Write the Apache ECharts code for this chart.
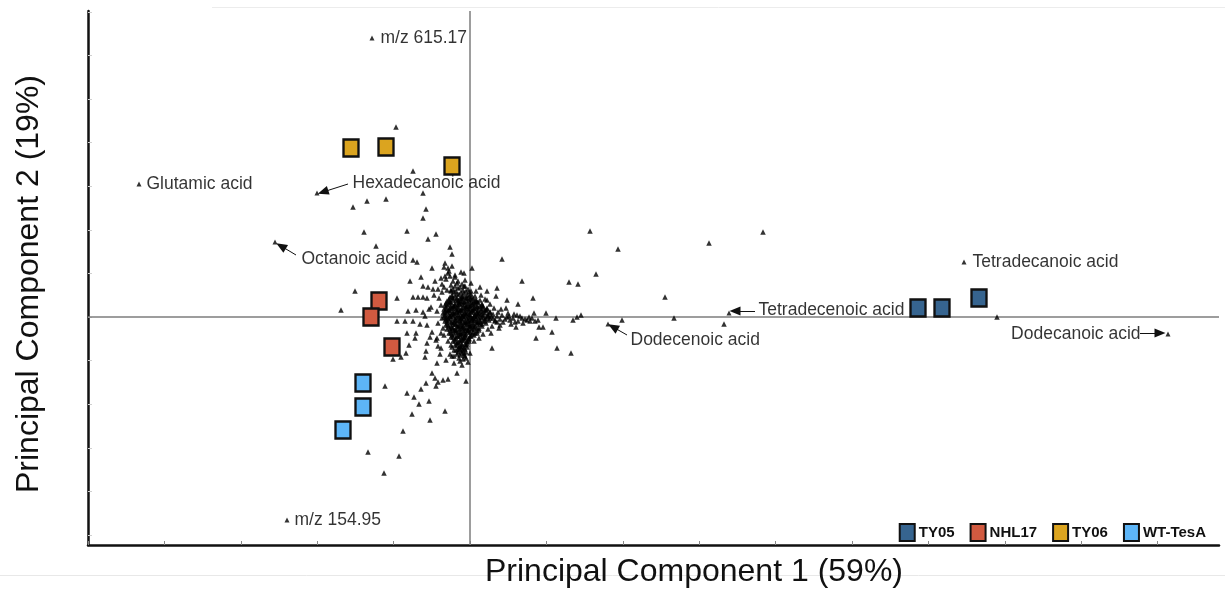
<!DOCTYPE html>
<html>
<head>
<meta charset="utf-8">
<title>PCA score plot</title>
<script src="https://cdn.jsdelivr.net/npm/echarts@6/dist/echarts.min.js"></script>
<style>
  html, body { margin: 0; padding: 0; background: #fff; }
  #chart { width: 1225px; height: 596px; }
</style>
</head>
<body>
<div id="chart"></div>
<script>
// PCA scores: strains (squares) and metabolite features (triangles)
const groupNames = ['TY05', 'NHL17', 'TY06', 'WT-TesA'];
const ty05 = [[44.8, 0.9], [47.2, 0.9], [50.9, 1.9]];
const nhl17 = [[-9.1, 1.6], [-9.9, 0.0], [-7.8, -3.0]];
const ty06 = [[-11.9, 16.9], [-8.4, 17.0], [-1.8, 15.1]];
const wtTesA = [[-10.7, -6.6], [-10.7, -9.0], [-12.7, -11.3]];

// Named metabolite features
const featureNames = ['m/z 615.17', 'Glutamic acid', 'Hexadecanoic acid', 'Octanoic acid', 'm/z 154.95',
  'Tetradecanoic acid', 'Tetradecenoic acid', 'Dodecenoic acid', 'Dodecanoic acid'];
const featureScores = [[-9.8, 27.9], [-33.1, 13.3], [-15.3, 12.4], [-19.5, 7.5], [-18.3, -20.3],
  [49.4, 5.5], [25.9, 0.4], [13.8, -0.7], [69.8, -1.7]];

// Remaining features: scattered loadings
const scatteredFeatures = [
  [-7.4, 19.0], [-5.7, 14.6], [-11.7, 11.0], [-10.3, 11.6], [-8.4, 11.8], [-4.7, 12.4], [-4.4, 10.8],
  [-4.7, 9.9], [-10.6, 8.5], [-6.3, 8.6], [-4.2, 7.8], [-3.4, 8.3], [-9.4, 7.1], [-2.0, 7.0], [-1.8, 6.3],
  [-5.7, 5.7], [-5.3, 5.5], [-3.8, 4.9], [-2.5, 5.4], [-2.2, 4.9], [0.2, 4.9], [3.2, 5.8], [-0.6, 4.4],
  [-6.0, 3.6], [-4.9, 4.0], [-4.7, 3.1], [-3.7, 2.8], [-11.5, 2.6], [-7.3, 1.9], [-12.9, 0.7],
  [-5.7, 2.0], [-5.2, 2.0], [-4.7, 2.0], [-4.3, 1.9], [-6.2, 0.6], [-5.4, 0.7], [-4.7, 0.5], [-4.1, 0.8],
  [-7.3, -0.4], [-6.5, -0.4], [-5.7, -0.4], [-5.0, -0.7], [-6.3, -1.6], [-5.4, -1.6], [-5.5, -2.1],
  [-4.0, -2.0], [-6.1, -2.8], [-6.4, -3.6], [-6.9, -4.0], [-7.7, -4.2], [-4.3, -2.6], [-4.4, -3.4],
  [-4.5, -4.0], [-3.3, -2.1], [-3.2, -2.9], [-3.0, -3.7], [-2.4, -4.3], [-3.3, -4.6], [-1.8, -3.9],
  [-1.6, -3.3], [-0.8, -4.8], [-0.4, -2.8], [-3.8, -5.6], [-1.3, -5.6], [-0.4, -6.4], [-3.5, -6.1],
  [-2.7, -6.3], [-2.2, -6.2], [-3.2, -6.5], [-3.4, -6.9], [-4.4, -6.6], [-4.9, -7.2], [-8.5, -6.9],
  [-6.3, -7.6], [-5.6, -8.0], [-4.1, -8.4], [-5.1, -8.7], [-5.8, -9.7], [-2.5, -9.4], [-4.0, -10.3],
  [-6.7, -11.4], [-10.2, -13.5], [-7.1, -13.9], [-8.6, -15.6], [-2.9, -1.6], [-1.9, -2.8],
  [5.2, 3.6], [2.7, 2.9], [2.6, 2.1], [3.7, 1.7], [4.8, 1.3], [6.3, 1.9], [6.4, 0.4], [7.6, 0.4],
  [8.6, -0.1], [10.3, -0.3], [10.7, 0.0], [11.1, 0.2], [9.9, 3.5], [10.8, 3.3], [12.6, 4.3], [12.0, 8.6],
  [14.8, 6.8], [23.9, 7.4], [29.3, 8.5], [19.5, 2.0], [15.2, -0.3], [20.4, -0.1], [25.4, -0.7],
  [6.9, -1.0], [7.3, -1.0], [8.2, -1.5], [6.5, -0.4], [6.6, -2.1], [8.7, -3.1], [10.1, -3.6], [2.2, -3.1],
  [5.2, -0.1], [5.7, -0.3], [4.3, -0.1], [3.7, 0.0], [4.7, 0.2], [3.8, 0.4], [2.9, -1.1], [1.7, 1.7],
  [3.1, 0.8], [52.7, 0.0],
  [-2.6, 5.0], [-1.8, 5.1], [-2.2, 4.4], [-1.5, 4.0], [-2.9, 3.9], [-0.5, 3.7]
];

// Halo around the central cluster
const clusterHalo = [
  [-2.8, 2.5], [-3.1, 1.9], [-2.6, 3.0], [-1.9, 3.2], [-1.2, 3.6], [-0.6, 3.1], [0.1, 3.4], [-2.4, 3.8],
  [-1.5, 4.2], [-0.9, 4.5], [-2.9, 1.2], [-3.3, 0.6], [-2.8, -0.1], [-3.2, -0.6], [-2.7, -1.1],
  [-2.6, -1.8], [-2.2, -2.4], [-1.8, -3.0], [-1.4, -3.3], [-0.9, -3.4], [-0.5, -3.9], [-1.1, -4.1],
  [-0.3, -3.0], [0.4, -2.4], [0.9, -2.1], [1.3, -1.7], [1.8, -1.2], [0.6, 2.6], [1.1, 2.2], [1.5, 1.8],
  [2.0, 1.3], [2.4, 0.9], [2.8, 0.5], [3.2, 0.2], [3.5, -0.2], [2.7, -0.5], [3.0, -0.8], [2.2, -0.9],
  [4.0, -0.3], [4.4, 0.3], [4.8, -0.4], [5.5, -0.2], [6.0, -0.4], [5.9, 0.0], [4.6, -1.0], [3.6, 0.9],
  [1.0, 3.0], [-3.6, 2.2], [-3.9, 1.0], [-4.2, 3.0], [-3.8, -1.5], [-3.4, -2.3], [-2.9, -3.1],
  [-2.0, -3.7], [-1.6, -4.6], [-0.7, -4.2], [0.0, -3.6], [-0.2, -4.5], [1.7, 2.6], [2.1, -1.6],
  [-4.5, 0.1], [-4.3, -0.8], [-3.5, 3.6], [-2.1, 4.6],
  [-2.8, 3.3], [-2.3, 2.7], [-1.9, 2.7], [-3.2, 2.8], [-2.5, 4.1], [-1.7, 3.6], [-2.0, 4.1],
  [-1.3, -3.7], [-0.9, -3.0], [-0.6, -3.6], [-1.0, -4.4], [-0.4, -4.1], [-1.6, -3.9],
  [2.5, -0.4], [3.3, -0.5], [3.9, 0.1], [4.5, -0.5], [5.0, 0.1], [5.3, -0.6], [6.2, -0.1], [6.8, -0.3], [4.1, -0.7]
];

// Dense core of low-loading features near the origin
const clusterCore = [
  [-1.6, 2.5], [-1.1, 2.3], [-0.6, 2.4], [-0.1, 2.5],
  [-2.0, 2.0], [-1.5, 2.1], [-1.0, 1.9], [-0.6, 2.0], [-0.1, 2.1], [0.3, 1.9],
  [-2.3, 1.6], [-1.9, 1.5], [-1.4, 1.7], [-1.0, 1.6], [-0.5, 1.5], [-0.1, 1.7], [0.4, 1.6], [0.8, 1.5],
  [-2.5, 1.2], [-2.1, 1.3], [-1.7, 1.1], [-1.2, 1.2], [-0.8, 1.3], [-0.4, 1.1], [0.1, 1.2], [0.5, 1.3], [1.0, 1.1],
  [-2.6, 0.8], [-2.2, 0.7], [-1.8, 0.9], [-1.4, 0.8], [-1.0, 0.7], [-0.6, 0.9], [-0.2, 0.8], [0.2, 0.7],
  [0.6, 0.9], [1.1, 0.8], [1.5, 0.7],
  [-2.7, 0.4], [-2.3, 0.5], [-1.9, 0.3], [-1.5, 0.4], [-1.1, 0.5], [-0.7, 0.3], [-0.3, 0.4], [0.1, 0.5],
  [0.5, 0.3], [0.9, 0.4], [1.3, 0.5], [1.8, 0.3],
  [-2.6, 0.0], [-2.2, -0.1], [-1.7, 0.1], [-1.3, 0.0], [-0.9, -0.1], [-0.5, 0.1], [-0.1, 0.0], [0.3, -0.1],
  [0.7, 0.1], [1.1, 0.0], [1.6, -0.1], [2.1, 0.1],
  [-2.5, -0.4], [-2.1, -0.3], [-1.6, -0.5], [-1.2, -0.4], [-0.8, -0.3], [-0.4, -0.5], [0.0, -0.4],
  [0.4, -0.3], [0.8, -0.5], [1.3, -0.4], [1.9, -0.3],
  [-2.4, -0.8], [-1.9, -0.9], [-1.5, -0.7], [-1.1, -0.8], [-0.7, -0.9], [-0.3, -0.7], [0.1, -0.8],
  [0.5, -0.9], [1.0, -0.7],
  [-2.3, -1.2], [-1.8, -1.1], [-1.4, -1.3], [-1.0, -1.2], [-0.6, -1.1], [-0.2, -1.3], [0.2, -1.2], [0.7, -1.1],
  [-2.1, -1.6], [-1.6, -1.7], [-1.2, -1.5], [-0.8, -1.6], [-0.4, -1.7], [0.0, -1.5], [0.5, -1.6],
  [-1.9, -2.0], [-1.4, -2.1], [-1.0, -1.9], [-0.6, -2.0], [-0.1, -2.1],
  [-1.7, -2.4], [-1.2, -2.5], [-0.8, -2.3], [-0.3, -2.4],
  [-1.5, -2.8], [-1.0, -2.9], [-0.5, -2.7],
  [-1.2, -3.2], [-0.7, -3.3],
  [-1.8, 2.2], [-1.3, 2.3], [-0.8, 2.1], [-0.3, 2.2], [0.1, 2.3],
  [-2.1, 1.8], [-1.7, 1.9], [-1.2, 1.7], [-0.8, 1.8], [-0.3, 1.9], [0.1, 1.8], [0.6, 1.7],
  [-2.4, 1.4], [-2.0, 1.5], [-1.5, 1.3], [-1.1, 1.4], [-0.6, 1.5], [-0.2, 1.3], [0.3, 1.4], [0.7, 1.5], [1.2, 1.3],
  [-2.4, 1.0], [-2.0, 0.9], [-1.6, 1.1], [-1.2, 1.0], [-0.8, 0.9], [-0.4, 1.0], [0.0, 1.1], [0.4, 0.9],
  [0.8, 1.0], [1.3, 1.1], [1.7, 0.9],
  [-2.5, 0.6], [-2.1, 0.7], [-1.7, 0.5], [-1.3, 0.6], [-0.9, 0.7], [-0.5, 0.5], [-0.1, 0.6], [0.3, 0.7],
  [0.7, 0.5], [1.1, 0.6], [1.6, 0.7], [2.0, 0.5],
  [-2.5, 0.2], [-2.0, 0.1], [-1.6, 0.3], [-1.2, 0.2], [-0.8, 0.1], [-0.4, 0.3], [0.0, 0.2], [0.4, 0.1],
  [0.8, 0.3], [1.3, 0.2], [1.8, 0.1], [2.3, 0.3], [2.7, 0.1],
  [-2.4, -0.2], [-1.9, -0.1], [-1.5, -0.3], [-1.0, -0.2], [-0.6, -0.1], [-0.2, -0.3], [0.2, -0.2], [0.6, -0.1],
  [1.0, -0.3], [1.5, -0.2], [2.0, -0.1], [2.5, -0.3], [3.0, -0.2],
  [-2.3, -0.6], [-1.8, -0.5], [-1.4, -0.7], [-0.9, -0.6], [-0.5, -0.5], [-0.1, -0.7], [0.3, -0.6], [0.7, -0.5],
  [1.2, -0.7], [1.6, -0.6],
  [-2.1, -1.0], [-1.7, -1.1], [-1.2, -0.9], [-0.8, -1.0], [-0.4, -1.1], [0.0, -0.9], [0.4, -1.0], [0.9, -1.1],
  [-1.9, -1.4], [-1.5, -1.3], [-1.0, -1.5], [-0.6, -1.4], [-0.2, -1.3], [0.3, -1.5], [0.7, -1.4],
  [-1.8, -1.8], [-1.3, -1.9], [-0.9, -1.7], [-0.5, -1.8], [0.0, -1.9], [0.4, -1.8],
  [-1.5, -2.2], [-1.0, -2.3], [-0.6, -2.1], [-0.1, -2.2],
  [-1.3, -2.6], [-0.8, -2.7], [-0.3, -2.5],
  [-1.1, -3.0], [-0.6, -3.1],
  [-1.3, 3.4], [-0.8, 3.3],
  [-1.5, 3.1], [-1.0, 3.0], [-0.5, 3.1],
  [-1.7, 2.8], [-1.2, 2.9], [-0.7, 2.7], [-0.2, 2.8],
  [-1.9, 2.6], [-1.4, 2.6], [-0.9, 2.5], [-0.4, 2.6], [0.1, 2.6],
  [-1.8, 2.0], [-1.3, 1.9], [-0.8, 2.0], [-0.4, 1.9], [0.1, 2.0], [0.5, 2.1],
  [-2.1, 1.6], [-1.7, 1.7], [-1.2, 1.5], [-0.8, 1.6], [-0.3, 1.6], [0.1, 1.5], [0.6, 1.6], [1.0, 1.7],
  [-2.3, 1.2], [-1.9, 1.1], [-1.5, 1.2], [-1.0, 1.3], [-0.6, 1.2], [-0.2, 1.1], [0.3, 1.2], [0.7, 1.1], [1.2, 1.2],
  [-2.4, 0.8], [-2.0, 0.7], [-1.6, 0.9], [-1.2, 0.8], [-0.8, 0.7], [-0.4, 0.8], [0.0, 0.9], [0.4, 0.8],
  [0.8, 0.7], [1.3, 0.9], [1.7, 0.8],
  [-2.5, 0.4], [-2.1, 0.3], [-1.7, 0.4], [-1.3, 0.5], [-0.9, 0.3], [-0.5, 0.4], [-0.1, 0.3], [0.3, 0.5],
  [0.7, 0.4], [1.1, 0.3], [1.5, 0.4], [2.0, 0.5],
  [-2.4, 0.0], [-2.0, 0.1], [-1.5, -0.1], [-1.1, 0.0], [-0.7, 0.1], [-0.3, -0.1], [0.1, 0.0], [0.5, 0.1],
  [0.9, -0.1], [1.3, 0.0], [1.8, 0.1], [2.3, -0.1],
  [-2.3, -0.4], [-1.9, -0.5], [-1.4, -0.3], [-1.0, -0.4], [-0.6, -0.5], [-0.2, -0.4], [0.2, -0.3], [0.6, -0.4],
  [1.0, -0.5], [1.5, -0.4],
  [-2.2, -0.8], [-1.7, -0.7], [-1.3, -0.9], [-0.9, -0.8], [-0.5, -0.7], [-0.1, -0.9], [0.3, -0.8], [0.7, -0.7], [1.2, -0.9],
  [-2.0, -1.2], [-1.6, -1.3], [-1.2, -1.1], [-0.8, -1.2], [-0.4, -1.3], [0.0, -1.1], [0.4, -1.2], [0.9, -1.3],
  [-1.9, -1.6], [-1.4, -1.5], [-1.0, -1.7], [-0.6, -1.6], [-0.2, -1.5], [0.2, -1.7], [0.7, -1.6],
  [-1.7, -2.0], [-1.2, -1.9], [-0.8, -2.1], [-0.4, -2.0], [0.1, -1.9],
  [-1.5, -2.4], [-1.0, -2.5], [-0.6, -2.3], [-0.1, -2.4],
  [-1.3, -2.8], [-0.8, -2.9], [-0.3, -2.7],
  [-1.0, -3.2], [-0.5, -3.2],
  [-1.2, -3.5], [-0.8, -3.6], [-0.4, -3.5],
  [-1.0, -3.8], [-0.6, -3.8]
];

// Axis tick positions (unlabelled)
const xTicks = [-38.2, -30.56, -22.92, -15.28, -7.64, 0, 7.64, 15.28, 22.92, 30.56, 38.2, 45.84, 53.48, 61.12, 68.76];
const yTicks = [-21.8, -17.44, -13.08, -8.72, -4.36, 0, 4.36, 8.72, 13.08, 17.44, 21.8, 26.16, 30.52];

const xTitle = 'Principal Component 1 (59%)';
const yTitle = 'Principal Component 2 (19%)';

// Styling
const groupColors = ['#36648f', '#d15a40', '#dba41f', '#5db5f7'];
const groupData = [ty05, nhl17, ty06, wtTesA];
const labelFont = '"Liberation Sans", Arial, sans-serif';

// Label placement per named feature (pixel offsets) and leader arrows (axis units)
const labelLayout = {
  'm/z 615.17': { position: 'right', distance: 6 },
  'Glutamic acid': { position: 'right', distance: 5 },
  'Hexadecanoic acid': { position: 'right', distance: 0, offset: [33, -10], arrow: [[-12.2, 13.3], [-14.7, 12.5]] },
  'Octanoic acid': { position: 'right', distance: 0, offset: [24, 17], arrow: [[-17.4, 6.2], [-18.9, 7.1]] },
  'm/z 154.95': { position: 'right', distance: 5 },
  'Tetradecanoic acid': { position: 'right', distance: 6 },
  'Tetradecenoic acid': { position: 'right', distance: 0, offset: [27, -3], arrow: [[28.5, 0.6], [26.5, 0.6]] },
  'Dodecenoic acid': { position: 'right', distance: 0, offset: [20, 16], arrow: [[15.7, -1.8], [14.3, -1.0]] },
  'Dodecanoic acid': { position: 'left', distance: 25, arrow: [[67.0, -1.6], [69.0, -1.6]] }
};

const featureData = featureNames.map((name, i) => {
  const l = labelLayout[name];
  return {
    name: name,
    value: featureScores[i],
    label: {
      show: true,
      formatter: '{b}',
      position: l.position,
      distance: l.distance,
      offset: l.offset || [0, 0],
      color: '#000',
      fontSize: 17.5,
      fontFamily: labelFont
    }
  };
});

const arrowLines = featureNames
  .filter(n => labelLayout[n].arrow)
  .map(n => {
    const a = labelLayout[n].arrow;
    return [{ coord: a[0] }, { coord: a[1] }];
  });

const triangleStyle = { color: '#000' };

const chart = echarts.init(document.getElementById('chart'), null, { renderer: 'canvas' });

const option = {
  animation: false,
  backgroundColor: '#fff',
  grid: { left: 88, right: 6, top: 11, bottom: 51, containLabel: false },
  xAxis: {
    type: 'value',
    min: -38.2,
    max: 74.9,
    axisLine: { onZero: false, lineStyle: { color: '#111', width: 2.5 } },
    axisTick: { show: true, inside: true, length: 4, customValues: xTicks, lineStyle: { color: '#888', width: 1 } },
    axisLabel: { show: false },
    splitLine: { show: false }
  },
  yAxis: {
    type: 'value',
    min: -22.8,
    max: 30.6,
    axisLine: { onZero: false, lineStyle: { color: '#111', width: 2.5 } },
    axisTick: { show: true, inside: true, length: 4, customValues: yTicks, lineStyle: { color: '#d0d0d0', width: 1 } },
    axisLabel: { show: false },
    splitLine: { show: false }
  },
  legend: {
    data: groupNames,
    right: 14,
    top: 518,
    icon: 'rect',
    itemWidth: 15,
    itemHeight: 17,
    itemGap: 15,
    itemStyle: { borderColor: '#111', borderWidth: 2 },
    textStyle: { fontFamily: labelFont, fontWeight: 'bold', fontSize: 15, color: '#111', padding: [0, 0, 0, -1] }
  },
  graphic: [
    { type: 'line', silent: true, shape: { x1: 212, y1: 7.5, x2: 1225, y2: 7.5 }, style: { stroke: '#ececec', lineWidth: 1 } },
    { type: 'line', silent: true, shape: { x1: 0, y1: 575.5, x2: 1225, y2: 575.5 }, style: { stroke: '#e8e8e8', lineWidth: 1 } },
    {
      type: 'text', x: 694, y: 572, silent: true,
      style: { text: xTitle, font: '32px "Liberation Sans", Arial, sans-serif', fill: '#111',
        align: 'center', verticalAlign: 'middle', textAlign: 'center', textVerticalAlign: 'middle' }
    },
    {
      type: 'text', x: 29, y: 284, rotation: Math.PI / 2, silent: true,
      style: { text: yTitle, font: '32px "Liberation Sans", Arial, sans-serif', fill: '#111',
        align: 'center', verticalAlign: 'middle', textAlign: 'center', textVerticalAlign: 'middle' }
    }
  ],
  series: [
    {
      name: 'features',
      type: 'scatter',
      symbol: 'triangle',
      symbolSize: 5.5,
      itemStyle: triangleStyle,
      silent: true,
      large: false,
      z: 3,
      data: clusterCore.concat(clusterHalo, scatteredFeatures),
      markLine: {
        silent: true,
        symbol: ['none', 'none'],
        label: { show: false },
        lineStyle: { color: '#7d7d7d', width: 1.5, type: 'solid' },
        z: 1,
        data: [{ xAxis: 0 }, { yAxis: 0 }]
      }
    },
    {
      name: 'named features',
      type: 'scatter',
      symbol: 'triangle',
      symbolSize: 5,
      itemStyle: triangleStyle,
      silent: true,
      z: 4,
      data: featureData,
      markLine: {
        silent: true,
        symbol: ['none', 'triangle'],
        symbolSize: [9, 11],
        label: { show: false },
        lineStyle: { color: '#111', width: 1, type: 'solid' },
        itemStyle: { color: '#111' },
        data: arrowLines
      }
    }
  ].concat(groupNames.map((name, i) => ({
    name: name,
    type: 'scatter',
    symbol: 'rect',
    symbolSize: [15, 17],
    z: 5,
    itemStyle: { color: groupColors[i], borderColor: '#111', borderWidth: 2.5, opacity: 1 },
    data: groupData[i]
  })))
};

chart.setOption(option);
</script>
</body>
</html>
